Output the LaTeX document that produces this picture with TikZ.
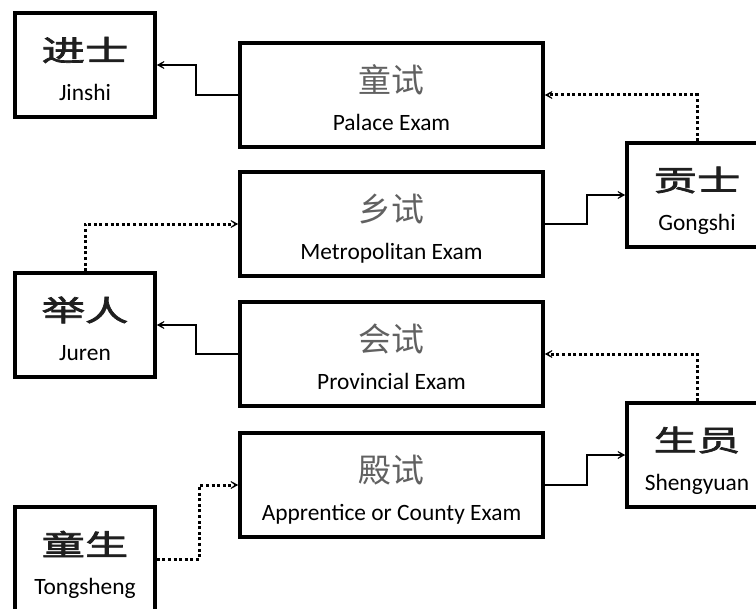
\documentclass[tikz,border=0pt]{standalone}
\usepackage{fontspec}
\setmainfont{Carlito}
\newfontfamily\cjkb{Noto Sans CJK SC}[FakeStretch=1.5,FakeBold=2.5]
\newfontfamily\cjkl{Noto Sans CJK SC}
\usetikzlibrary{arrows.meta}
\begin{document}
\begin{tikzpicture}[x=1bp,y=-1bp,
 box/.style={draw, line width=3.6bp, minimum height=104bp, inner sep=0pt},
 namebox/.style={box, minimum width=140bp},
 exambox/.style={box, minimum width=303bp},
 cn/.style={font=\cjkb\fontsize{29}{29}\selectfont, text=black!88},
 cnl/.style={font=\cjkl\fontsize{33}{33}\selectfont, text=black!62},
 en/.style={font=\fontsize{23.5}{23.5}\selectfont, anchor=base, inner sep=0pt},
 conn/.style={line width=2.5bp, -{Stealth[length=12bp,width=13bp,inset=8.5bp]}},
 dconn/.style={conn, line width=3bp, dash pattern=on 3bp off 2.6bp}
]
\useasboundingbox (0,0) rectangle (756,609);
\clip (0,0) rectangle (756,609);

% name boxes
\node[namebox] (jinshi) at (85,65) {};
\node[namebox] (juren) at (85,325) {};
\node[namebox] (tongsheng) at (85,559) {};
\node[namebox] (gongshi) at (697,195) {};
\node[namebox] (shengyuan) at (697,455) {};

% exam boxes
\node[exambox] (palace) at (391.5,95) {};
\node[exambox] (metro) at (391.5,224) {};
\node[exambox] (prov) at (391.5,354) {};
\node[exambox] (appr) at (391.5,485) {};

% texts in name boxes
\node[cn] (jinshi-cn) at ([yshift=15bp]jinshi.center) {进士};
\node[en] (jinshi-en) at ([yshift=-35.5bp]jinshi.center) {Jinshi};
\node[cn] (juren-cn) at ([yshift=15bp]juren.center) {举人};
\node[en] (juren-en) at ([yshift=-35.5bp]juren.center) {Juren};
\node[cn] (tongsheng-cn) at ([yshift=15bp]tongsheng.center) {童生};
\node[en] (tongsheng-en) at ([yshift=-35.5bp]tongsheng.center) {Tongsheng};
\node[cn] (gongshi-cn) at ([yshift=15bp]gongshi.center) {贡士};
\node[en] (gongshi-en) at ([yshift=-35.5bp]gongshi.center) {Gongshi};
\node[cn] (shengyuan-cn) at ([yshift=15bp]shengyuan.center) {生员};
\node[en] (shengyuan-en) at ([yshift=-35.5bp]shengyuan.center) {Shengyuan};

% texts in exam boxes
\node[cnl] (palace-cn) at ([yshift=15bp]palace.center) {童试};
\node[en] (palace-en) at ([yshift=-35.5bp]palace.center) {Palace Exam};
\node[cnl] (metro-cn) at ([yshift=15bp]metro.center) {乡试};
\node[en] (metro-en) at ([yshift=-35.5bp]metro.center) {Metropolitan Exam};
\node[cnl] (prov-cn) at ([yshift=15bp]prov.center) {会试};
\node[en] (prov-en) at ([yshift=-35.5bp]prov.center) {Provincial Exam};
\node[cnl] (appr-cn) at ([yshift=15bp]appr.center) {殿试};
\node[en] (appr-en) at ([yshift=-35.5bp]appr.center) {Apprentice or County Exam};

% solid connectors
\draw[conn] (palace.west) -- ++(-42,0) |- (jinshi.east);
\draw[conn] (prov.west) -- ++(-42,0) |- (juren.east);
\draw[conn] (metro.east) -- ++(42,0) |- (gongshi.west);
\draw[conn] (appr.east) -- ++(42,0) |- (shengyuan.west);

% dotted connectors
\draw[dconn] (gongshi.north) |- (palace.east);
\draw[dconn] (shengyuan.north) |- (prov.east);
\draw[dconn] (juren.north) |- (metro.west);
\draw[dconn] (tongsheng.east) -- ++(43,0) |- (appr.west);
\end{tikzpicture}
\end{document}
